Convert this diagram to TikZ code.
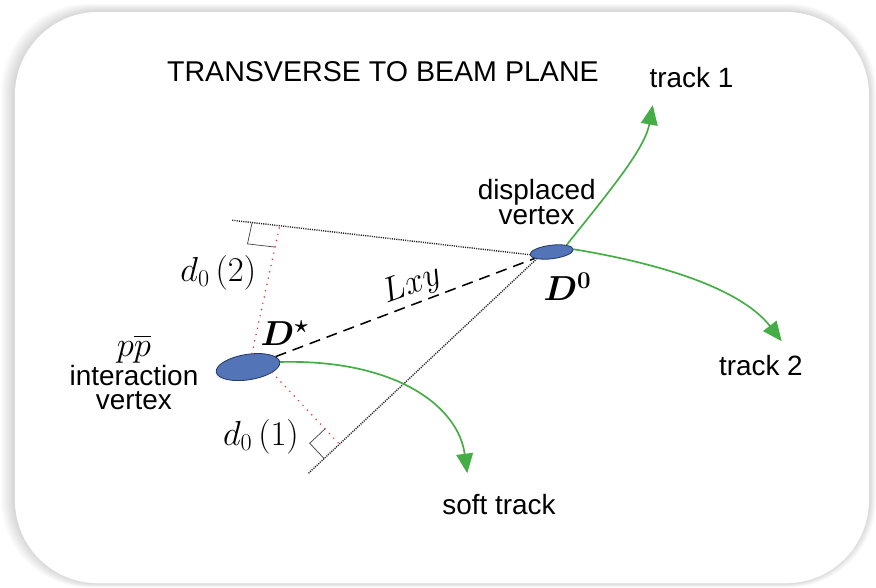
\documentclass[tikz,border=0pt]{standalone}
\usepackage{amsmath}
\usepackage{fontspec}
\setmainfont{Liberation Sans}
\usetikzlibrary{arrows.meta,calc,shapes.geometric}
\definecolor{VB}{HTML}{5375B8}
\definecolor{VD}{HTML}{24386A}
\definecolor{TG}{HTML}{45AD45}
\definecolor{DR}{HTML}{E8302A}
\tikzset{
  vtx/.style={ellipse, draw=VD, fill=VB, line width=0.6pt, inner sep=0pt},
  trk/.style={TG, line width=1.2pt, -{Triangle[length=14pt,width=12pt]}},
  extline/.style={black!85, line width=1pt, dash pattern=on 0.8pt off 0.8pt},
  ipline/.style={DR, line width=1.2pt, dash pattern=on 0pt off 4.6pt, line cap=round},
  rangle/.style={black!75, line width=0.5pt},
  lbl/.style={font=\fontsize{20}{17}\selectfont, align=center, inner sep=0pt},
  mlbl/.style={font=\fontsize{25}{20}\selectfont, inner sep=0pt}
}
\begin{document}
\begin{tikzpicture}[x=0.025cm, y=-0.025cm]
  % frame with soft shadow
  \fill[white] (0,0) rectangle (876,589);
  \foreach \s in {1,...,14}
    \fill[black, opacity=0.012, rounded corners=2.2cm]
      ($(15,12)+(-\s,-0.6*\s)$) rectangle ($(876,588)+(0.5*\s,0.3*\s)$);
  \fill[white, rounded corners=2.1cm] (15,12) rectangle (876,588);
  \useasboundingbox (0,0) rectangle (876,589);

  % vertices
  \node[vtx, minimum width=1.62cm, minimum height=0.64cm, rotate=9] (ppv) at (250,370) {};
  \node[vtx, minimum width=1.1cm, minimum height=0.34cm, rotate=7] (dzv) at (556,254) {};

  % extrapolated tracks and impact parameters
  \coordinate (topend) at (234,222);
  \coordinate (lowend) at (311,477);
  \coordinate (foot2) at ($(topend)!0.16!(dzv.west)$);
  \coordinate (foot1) at ($(lowend)!(ppv.south east)!(dzv.south west)$);
  \draw[extline] (topend) -- (dzv.west);
  \draw[extline] (lowend) -- (dzv.south west);
  \draw[ipline] (ppv.65) -- (foot2);
  \draw[ipline] (ppv.south east) -- (foot1);
  \coordinate (r2a) at ($(foot2)!0.7cm!(topend)$);
  \coordinate (r2b) at ($(foot2)!0.55cm!(ppv.65)$);
  \draw[rangle] (r2a) -- ($(r2a)+(r2b)-(foot2)$) -- (r2b);
  \coordinate (r1a) at ($(foot1)!0.53cm!(lowend)$);
  \coordinate (r1b) at ($(foot1)!0.53cm!(ppv.south east)$);
  \draw[rangle] (r1a) -- ($(r1a)+(r1b)-(foot1)$) -- (r1b);

  % decay length
  \draw[black, line width=1.1pt, dash pattern=on 8pt off 5pt] (ppv) -- (dzv);
  \node[mlbl, rotate=20] (lxy) at (415,287) {$Lxy$};

  % tracks
  \coordinate (tip1) at (658,106);
  \coordinate (tip2) at (788,344);
  \coordinate (tips) at (471,477);
  \draw[trk] (dzv.north east) .. controls (615,192) and (650,150) .. (tip1);
  \draw[trk] (dzv.east) .. controls (680,268) and (750,295) .. (tip2);
  \draw[trk] (ppv.east) .. controls (400,362) and (462,410) .. (tips);

  % labels
  \node[lbl, font=\fontsize{20.5}{17}\selectfont] (title) at (386,72) {TRANSVERSE TO BEAM PLANE};
  \node[lbl] (lbltrk1) at (697,78) {track 1};
  \node[lbl] (lbltrk2) at (767,368) {track 2};
  \node[lbl] (lblsoft) at (503,509) {soft track};
  \node[lbl] (lbldisp) at (541,204) {displaced\\vertex};
  \node[lbl] (lblpp) at (135,375) {{\fontsize{23}{17}\selectfont$p\overline{p}$}\\[1pt]interaction\\vertex};
  \node[mlbl, font=\fontsize{24}{20}\selectfont\boldmath] (lbldz) at (572,289) {$D^0$};
  \node[mlbl, font=\fontsize{24}{20}\selectfont\boldmath] (lblds) at (287,336) {$D^\star$};
  \node[mlbl] (lbld2) at (220,275) {$d_0\,(2)$};
  \node[mlbl] (lbld1) at (263,440) {$d_0\,(1)$};
\end{tikzpicture}
\end{document}
